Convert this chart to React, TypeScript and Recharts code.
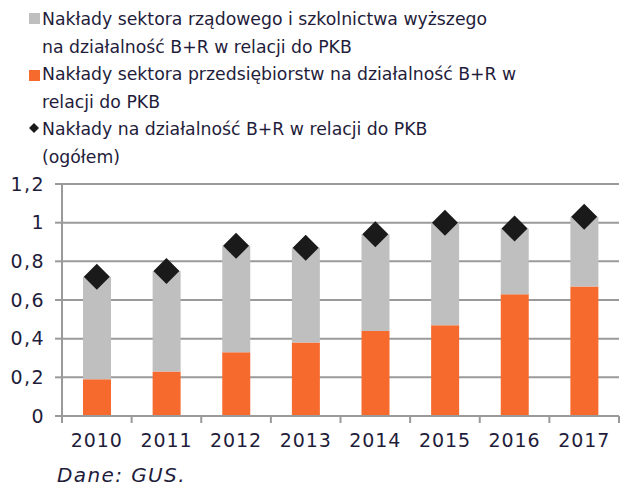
import { ComposedChart, Bar, Scatter, XAxis, YAxis, CartesianGrid } from "recharts";

const years = ["2010", "2011", "2012", "2013", "2014", "2015", "2016", "2017"];
const enterprise = [0.19, 0.23, 0.33, 0.38, 0.44, 0.47, 0.63, 0.67];
const govHigher = [0.53, 0.52, 0.55, 0.49, 0.5, 0.53, 0.34, 0.36];
const total = [0.72, 0.75, 0.88, 0.87, 0.94, 1.0, 0.97, 1.03];
const yTicks = [0, 0.2, 0.4, 0.6, 0.8, 1, 1.2];

const legendLabels = [
  ["Nakłady sektora rządowego i szkolnictwa wyższego", "na działalność B+R w relacji do PKB"],
  ["Nakłady sektora przedsiębiorstw na działalność B+R w", "relacji do PKB"],
  ["Nakłady na działalność B+R w relacji do PKB", "(ogółem)"],
];

const data = years.map((year, i) => ({
  year,
  enterprise: enterprise[i],
  govHigher: govHigher[i],
  total: total[i],
}));

const W = 626;
const H = 489;
const Y_AXIS_W = 62;
const X_AXIS_H = 73;
const M = { top: 184, right: 7, bottom: 0, left: 0 };
const band = (W - Y_AXIS_W - M.right) / years.length;

const FONT = "'DejaVu Sans', sans-serif";
const TICK_SPACING = "0.9px";
const TEXT = "#1f1d3b";
const GRID = "#9a9a9a";
const ORANGE = "#f76a2e";
const GRAY = "#bfbfbf";

const Diamond = (props: any) => {
  const { cx, cy } = props;
  const r = 13;
  return <polygon points={`${cx},${cy - r} ${cx + r},${cy} ${cx},${cy + r} ${cx - r},${cy}`} fill="#1a1a1a" />;
};

const XTick = (props: any) => {
  const { x, y, payload, index } = props;
  return (
    <g>
      <line x1={x - band / 2} x2={x - band / 2} y1={y} y2={y + 7} stroke={GRID} strokeWidth={2} />
      {index === years.length - 1 && (
        <line x1={x + band / 2} x2={x + band / 2} y1={y} y2={y + 7} stroke={GRID} strokeWidth={2} />
      )}
      <text
        x={x}
        y={y + 24}
        textAnchor="middle"
        dominantBaseline="central"
        fill={TEXT}
        fontSize={19}
        fontFamily={FONT}
        style={{ letterSpacing: TICK_SPACING }}
      >
        {payload.value}
      </text>
    </g>
  );
};

const LegendMarker = ({ i }: { i: number }) => {
  if (i === 2) {
    return (
      <svg width={12} height={12} style={{ position: "absolute", left: 28, top: 122 }}>
        <polygon points="6,1 11,6 6,11 1,6" fill="#1a1a1a" />
      </svg>
    );
  }
  return (
    <div
      style={{
        position: "absolute",
        left: 29,
        top: i === 0 ? 13 : 70,
        width: 11,
        height: 11,
        background: i === 0 ? GRAY : ORANGE,
      }}
    />
  );
};

export default function App() {
  return (
    <div
      style={{
        position: "absolute",
        left: 0,
        top: 0,
        width: W,
        height: H,
        background: "#fff",
        fontFamily: FONT,
        color: TEXT,
      }}
    >
      {legendLabels.map((lines, i) => (
        <div key={i}>
          <LegendMarker i={i} />
          {lines.map((line, j) => (
            <div
              key={j}
              style={{
                position: "absolute",
                left: 42,
                top: 5 + (i * 2 + j) * 27.5,
                fontSize: 17.3,
                lineHeight: "28px",
                whiteSpace: "nowrap",
              }}
            >
              {line}
            </div>
          ))}
        </div>
      ))}
      <ComposedChart width={W} height={H} data={data} margin={M}>
        <CartesianGrid vertical={false} stroke={GRID} strokeWidth={2} />
        <XAxis
          dataKey="year"
          height={X_AXIS_H}
          axisLine={{ stroke: GRID, strokeWidth: 2 }}
          tickLine={false}
          tickSize={0}
          tickMargin={0}
          tick={<XTick />}
          interval={0}
        />
        <YAxis
          domain={[0, 1.2]}
          ticks={yTicks}
          axisLine={{ stroke: GRID, strokeWidth: 2 }}
          tickLine={{ stroke: GRID, strokeWidth: 2 }}
          tickSize={7}
          tickMargin={10}
          tickFormatter={(v: number) => String(v).replace(".", ",")}
          tick={{ fill: TEXT, fontSize: 19, fontFamily: FONT, style: { letterSpacing: "1.4px" } }}
          width={Y_AXIS_W}
        />
        <Bar dataKey="enterprise" stackId="a" fill={ORANGE} barSize={28} isAnimationActive={false} />
        <Bar dataKey="govHigher" stackId="a" fill={GRAY} barSize={28} isAnimationActive={false} />
        <Scatter dataKey="total" shape={<Diamond />} isAnimationActive={false} />
      </ComposedChart>
      <div style={{ position: "absolute", left: 57, top: 463, fontSize: 20, fontStyle: "italic", letterSpacing: "1.4px" }}>
        Dane: GUS.
      </div>
    </div>
  );
}
